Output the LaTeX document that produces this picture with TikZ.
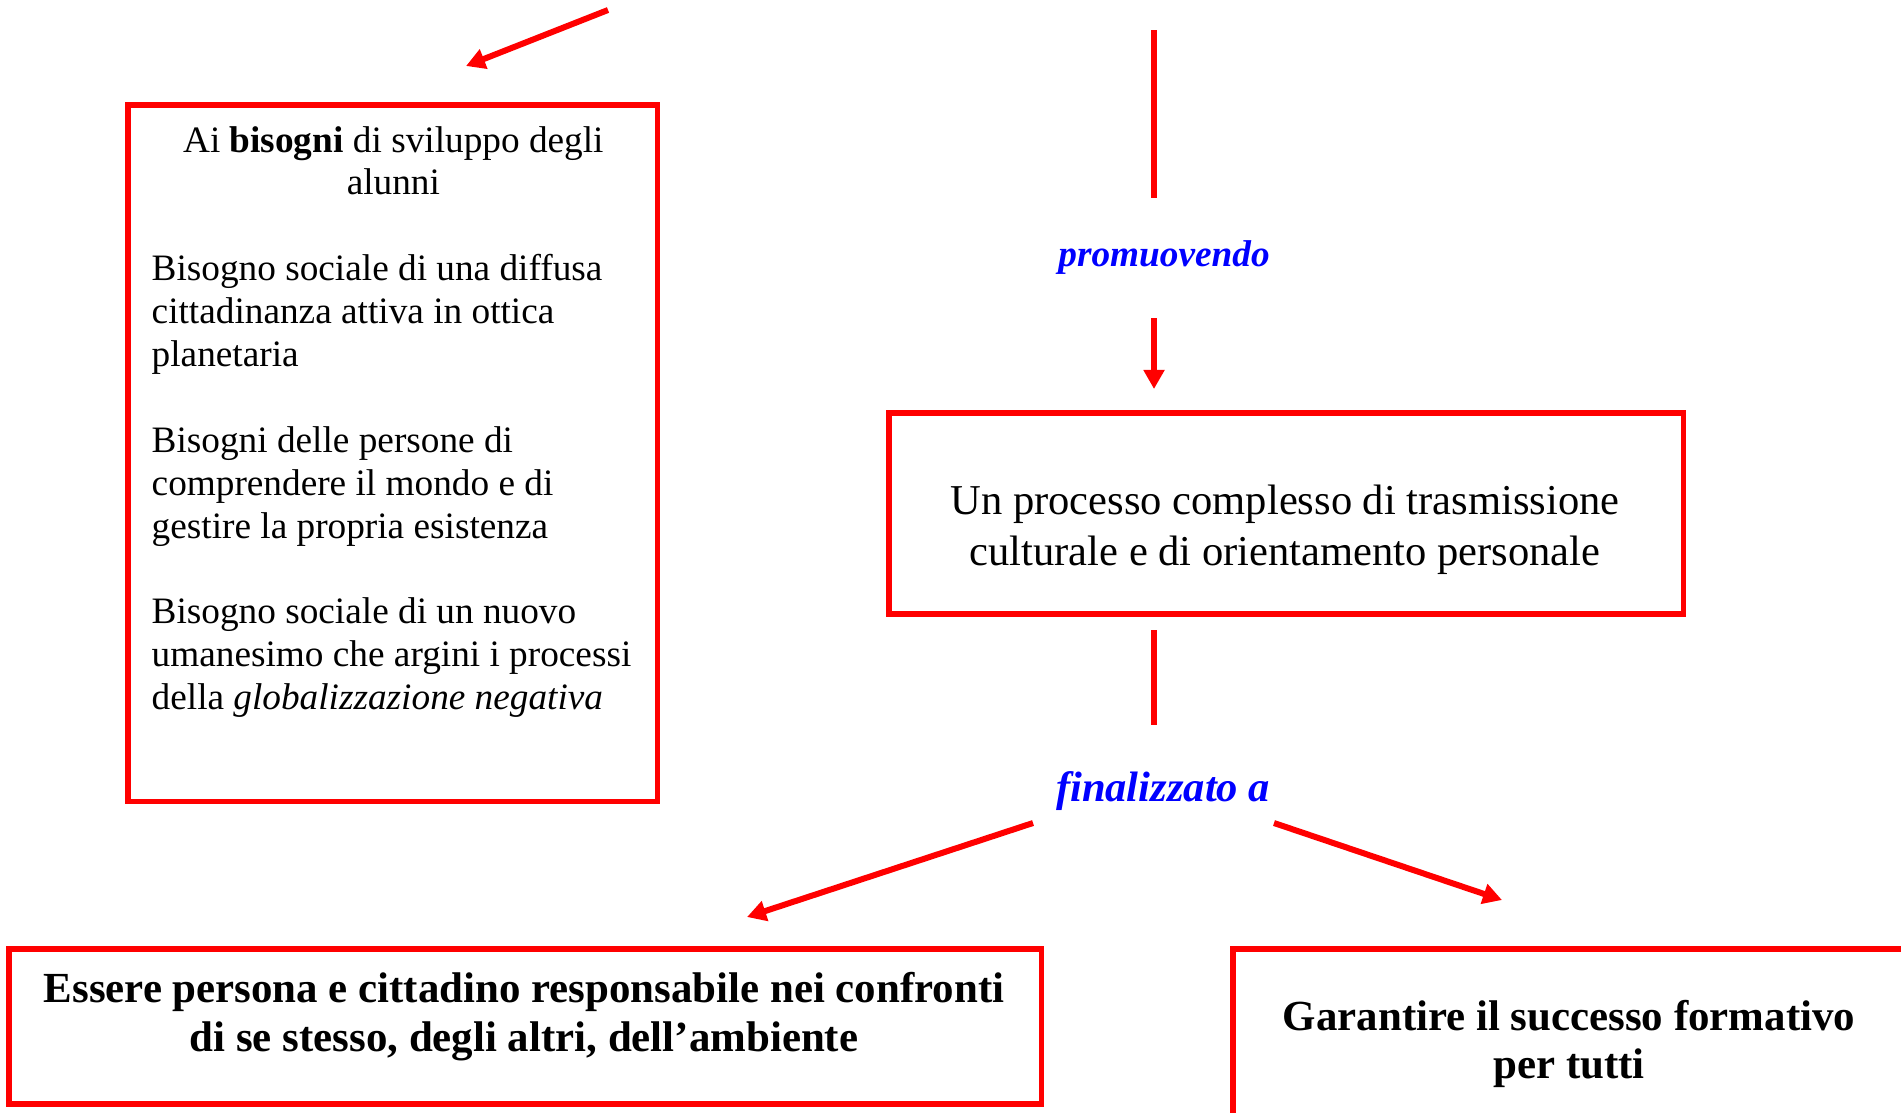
\documentclass[tikz,border=0pt]{standalone}
\usepackage{fontspec}
\setmainfont{Liberation Serif}
\usetikzlibrary{arrows.meta}
\definecolor{boxred}{RGB}{255,0,0}
\definecolor{verbblue}{RGB}{0,0,255}
\begin{document}
\begin{tikzpicture}[x=0.01cm,y=-0.01cm,
  frame/.style={draw=boxred, line width=0.055cm, inner sep=0pt, outer sep=0pt, anchor=north west},
  boxtext/.style={anchor=base, inner sep=0pt},
  link/.style={draw=boxred, line width=0.06cm},
  arrowlink/.style={link, -{Triangle[length=0.19cm,width=0.2cm]}},
  verb/.style={text=verbblue, anchor=base, inner sep=0pt},
]
\useasboundingbox (0,0) rectangle (1901,1112);
\clip (0,0) rectangle (1901,1112);

% frames
\node[frame, minimum width=5.29cm, minimum height=6.96cm] (needs) at (128,105) {};
\node[frame, minimum width=7.94cm, minimum height=2.01cm] (process) at (889,413) {};
\node[frame, minimum width=10.32cm, minimum height=1.55cm] (citizen) at (9,949) {};
\node[frame, minimum width=6.80cm, minimum height=2.00cm] (success) at (1233,949) {};

% texts inside the frames
\node[anchor=base west, inner sep=0pt] (needstext) at (151,152) {\parbox[t]{5.2cm}{\fontsize{10.6}{12.2}\selectfont\raggedright
\makebox[4.83cm][c]{Ai \textbf{bisogni} di sviluppo degli}\\
\makebox[4.83cm][c]{alunni}\par
\vspace{\baselineskip}
Bisogno sociale di una diffusa\\ cittadinanza attiva in ottica\\ planetaria\par
\vspace{\baselineskip}
Bisogni delle persone di\\ comprendere il mondo e di\\ gestire la propria esistenza\par
\vspace{\baselineskip}
Bisogno sociale di un nuovo\\ umanesimo che argini i processi\\ della \textit{globalizzazione negativa}}};

\node[boxtext] (processtext) at (1285,514) {\parbox[t]{7.7cm}{\centering\fontsize{12.1}{14.5}\selectfont
Un processo complesso di trasmissione\\ culturale e di orientamento personale}};

\node[boxtext] (citizentext) at (524,1002) {\parbox[t]{10cm}{\centering\fontsize{12.2}{14}\selectfont\bfseries
Essere persona e cittadino responsabile nei confronti\\ di se stesso, degli altri, dell’ambiente}};

\node[boxtext] (successtext) at (1569,1030) {\parbox[t]{6.5cm}{\centering\fontsize{12.2}{13.8}\selectfont\bfseries
Garantire il successo formativo\\ per tutti}};

% linking verbs
\node[verb, font=\fontsize{10.6}{12}\selectfont\bfseries\itshape] (promote) at (1164,266) {promuovendo};
\node[verb, font=\fontsize{12.1}{14}\selectfont\bfseries\itshape] (aim) at (1163,801) {finalizzato a};

% connector end points
\coordinate (inA) at (608,10);
\coordinate (inB) at (466,66);
\coordinate (topA) at (1154,30);
\coordinate (topB) at (1154,198);
\coordinate (promA) at (1154,318);
\coordinate (promB) at (1154,389);
\coordinate (procA) at (1154,630);
\coordinate (procB) at (1154,725);
\coordinate (leftA) at (1033,823);
\coordinate (leftB) at (747,917);
\coordinate (rightA) at (1274,823);
\coordinate (rightB) at (1502,900);

% connectors
\draw[arrowlink] (inA) -- (inB);
\draw[link] (topA) -- (topB);
\draw[arrowlink] (promA) -- (promB);
\draw[link] (procA) -- (procB);
\draw[arrowlink] (leftA) -- (leftB);
\draw[arrowlink] (rightA) -- (rightB);
\end{tikzpicture}
\end{document}
